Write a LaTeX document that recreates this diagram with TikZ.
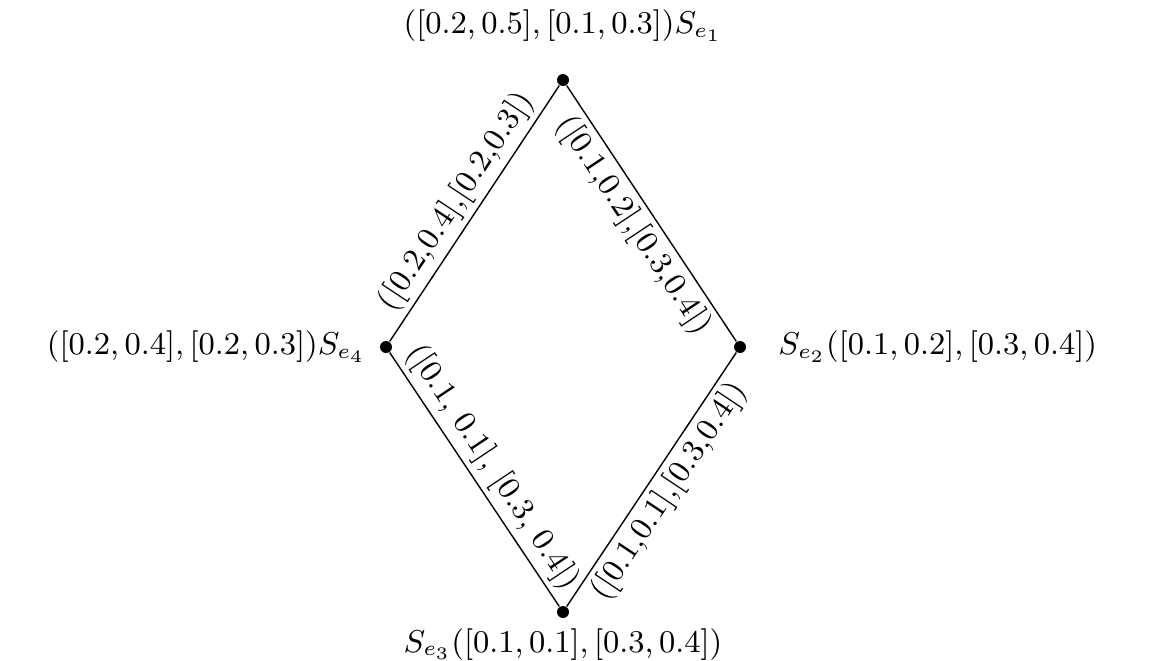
\documentclass[tikz,border=0pt]{standalone}
\usepackage{amsmath,amssymb}
\usepackage{tikz}
\usetikzlibrary{positioning}

\tikzset{
    vert/.style={circle, fill=black, inner sep=0pt, minimum size=1.2mm},
    vlab/.style={font=\small, inner sep=2pt},
    elab/.style={font=\small, sloped, midway, inner sep=1.5pt}
}

\begin{document}
\begin{tikzpicture}
    \useasboundingbox (0,0) rectangle (11.57,6.60);

    \node[vert] (v1) at (5.63,5.80) {};
    \node[vert] (v2) at (7.40,3.13) {};
    \node[vert] (v3) at (5.63,0.48) {};
    \node[vert] (v4) at (3.86,3.13) {};

    \node[vlab, above=2.4mm of v1] (l1) {$([0.2, 0.5], [0.1, 0.3])S_{e_1}$};
    \node[vlab, right=2.4mm of v2] (l2) {$S_{e_2}([0.1, 0.2], [0.3, 0.4])$};
    \node[vlab, below=0.2mm of v3] (l3) {$S_{e_3}([0.1, 0.1], [0.3, 0.4])$};
    \node[vlab, left=0.6mm of v4] (l4) {$([0.2, 0.4], [0.2, 0.3])S_{e_4}$};

    \draw[thin] (v4) -- node[elab, above] {([0.2,0.4],[0.2,0.3])} (v1);
    \draw[thin] (v1) -- node[elab, below] {([0.1,0.2],[0.3,0.4])} (v2);
    \draw[thin] (v4) -- node[elab, above] {([0.1, 0.1], [0.3, 0.4])} (v3);
    \draw[thin] (v3) -- node[elab, below] {([0.1,0.1],[0.3,0.4])} (v2);
\end{tikzpicture}
\end{document}
